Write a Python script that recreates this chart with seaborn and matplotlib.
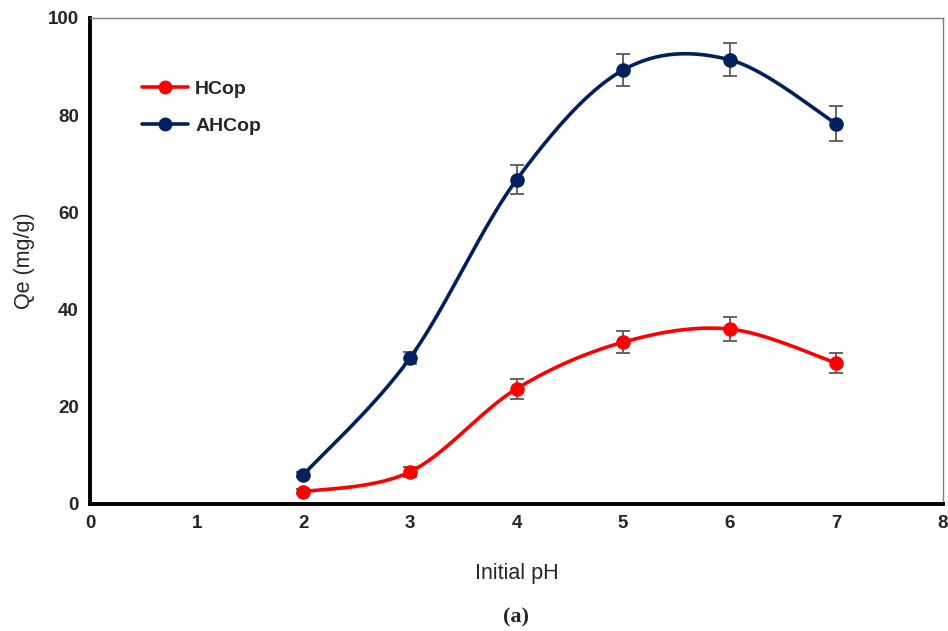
import numpy as np
import pandas as pd
import matplotlib
matplotlib.use("Agg")
import matplotlib.pyplot as plt
import seaborn as sns

ph = [2, 3, 4, 5, 6, 7]
hcop = [2.5, 6.6, 23.7, 33.3, 36.0, 29.0]
hcop_err = [0.5, 1.0, 2.0, 2.3, 2.4, 2.1]
ahcop = [6.0, 30.0, 66.7, 89.3, 91.4, 78.2]
ahcop_err = [0.5, 1.2, 3.0, 3.3, 3.4, 3.6]
series_names = ["HCop", "AHCop"]
xticks = [0, 1, 2, 3, 4, 5, 6, 7, 8]
yticks = [0, 20, 40, 60, 80, 100]

sns.set_style("white")
plt.rcParams['font.family'] = ['Liberation Sans', 'DejaVu Sans']

def smooth(x, y, n=40, t=0.5):
    # Catmull-Rom style smoothing (like Excel smoothed lines)
    x = np.asarray(x, float); y = np.asarray(y, float)
    P = np.column_stack([x, y])
    P = np.vstack([P[0], P, P[-1]])
    out = []
    for i in range(1, len(P) - 2):
        p0, p1, p2, p3 = P[i - 1], P[i], P[i + 1], P[i + 2]
        m1 = t * (p2 - p0)
        m2 = t * (p3 - p1)
        s = np.linspace(0, 1, n)[:, None]
        h00 = 2 * s**3 - 3 * s**2 + 1
        h10 = s**3 - 2 * s**2 + s
        h01 = -2 * s**3 + 3 * s**2
        h11 = s**3 - s**2
        seg = h00 * p1 + h10 * m1 + h01 * p2 + h11 * m2
        out.append(seg if i == 1 else seg[1:])
    c = np.vstack(out)
    return c[:, 0], c[:, 1]

fig = plt.figure(figsize=(9.48, 6.31), dpi=100)
ax = fig.add_axes([90 / 948, 1 - 504 / 631, (943 - 90) / 948, (504 - 18) / 631])

colors = {"HCop": "#ff0000", "AHCop": "#002060"}
data = {"HCop": (hcop, hcop_err), "AHCop": (ahcop, ahcop_err)}

for name in series_names:
    vals, errs = data[name]
    ax.errorbar(ph, vals, yerr=errs, fmt="none", ecolor="#595959",
                elinewidth=1.3, capsize=5, capthick=1.3, zorder=2)
    sx, sy = smooth(ph, vals)
    sns.lineplot(x=sx, y=sy, ax=ax, color=colors[name], linewidth=2.6,
                 sort=False, estimator=None, zorder=3)
    df = pd.DataFrame({"x": ph, "y": vals})
    sns.scatterplot(data=df, x="x", y="y", ax=ax, color=colors[name], s=110,
                    edgecolor=colors[name], linewidth=0, zorder=4)

from matplotlib.lines import Line2D
handles = [Line2D([0], [0], color=colors[n], lw=2.6, marker="o", markersize=9)
           for n in series_names]
leg = ax.legend(handles, series_names, loc="upper left",
                bbox_to_anchor=(0.04, 0.908), frameon=False,
                prop={"weight": "bold", "size": 14}, handlelength=2.4,
                labelspacing=1.0, handletextpad=0.35)

ax.set_xlim(0, 8)
ax.set_ylim(0, 100)
ax.set_xticks(xticks)
ax.set_yticks(yticks)
ax.set_xticklabels([str(v) for v in xticks], fontweight="bold", fontsize=13.5)
ax.set_yticklabels([str(v) for v in yticks], fontweight="bold", fontsize=13.5)
ax.tick_params(direction="inout", length=10, width=2.6, color="black", pad=3)
for side in ["left", "bottom"]:
    ax.spines[side].set_linewidth(2.8)
    ax.spines[side].set_color("black")
for side in ["top", "right"]:
    ax.spines[side].set_linewidth(1.0)
    ax.spines[side].set_color("#808080")

ax.set_xlabel("Initial pH", fontsize=15.5, labelpad=22)
ax.set_ylabel("Qe (mg/g)", fontsize=15.5, labelpad=9)

fig.text(0.5 * (90 + 943) / 948 + 0.0, 1 - 617 / 631, "(a)", ha="center",
         va="center", fontsize=16, fontweight="bold",
         family=["Liberation Serif", "DejaVu Serif"])

fig.savefig("out.png", dpi=100)
